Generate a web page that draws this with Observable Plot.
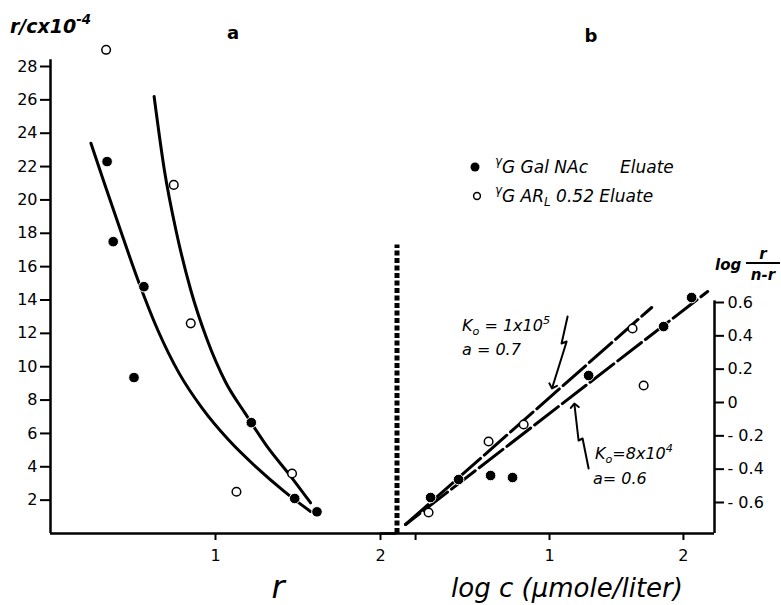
<!DOCTYPE html>
<html><head><meta charset="utf-8">
<script src="https://cdn.jsdelivr.net/npm/d3@7"></script>
<script src="https://cdn.jsdelivr.net/npm/@observablehq/plot@0.6"></script>
<style>
html,body{margin:0;padding:0;background:#fff;}
#wrap{position:relative;width:781px;height:605px;overflow:hidden;background:#fff;}
#wrap svg{position:absolute;left:0;top:0;}
</style></head><body><div id="wrap"></div>
<script>
// ---- Panel a: Scatchard plot (r/c x 10^-4 vs r)
const galR   = [0.343, 0.38, 0.566, 0.506, 1.217, 1.48, 1.615];
const galRC  = [22.3, 17.5, 14.8, 9.35, 6.65, 2.1, 1.3];
const arR    = [0.337, 0.747, 0.85, 1.127, 1.464];
const arRC   = [29.0, 20.9, 12.6, 2.5, 3.6];
const fitGalR  = [0.245, 0.33, 0.42, 0.53, 0.65, 0.78, 0.92, 1.08, 1.25, 1.42, 1.576];
const fitGalRC = [23.4, 20.9, 18.3, 15.2, 12.2, 9.6, 7.5, 5.6, 3.95, 2.5, 1.32];
const fitArR   = [0.628, 0.69, 0.76, 0.85, 0.95, 1.06, 1.18, 1.31, 1.45, 1.576];
const fitArRC  = [26.2, 21.8, 18.2, 14.6, 11.6, 9.1, 7.2, 5.25, 3.5, 1.84];
const yTicksA = [2,4,6,8,10,12,14,16,18,20,22,24,26,28];
const xTicksA = [1,2];

// ---- Panel b: log r/(n-r) vs log c
const galLogC = [0.112, 0.321, 0.56, 0.724, 1.292, 1.852, 2.061];
const galLogR = [-0.57, -0.462, -0.438, -0.45, 0.162, 0.456, 0.63];
const arLogC  = [0.097, 0.545, 0.807, 1.62, 1.703];
const arLogR  = [-0.66, -0.234, -0.132, 0.444, 0.102];
const fitAlogC = [-0.075, 1.763];   // K0 = 1x10^5, a = 0.7
const fitAlogR = [-0.732, 0.57];
const fitBlogC = [-0.075, 2.181];   // K0 = 8x10^4, a = 0.6
const fitBlogR = [-0.732, 0.666];
const yTicksB = [-0.6,-0.4,-0.2,0,0.2,0.4,0.6];
const xTicksB = [0,1,2];
// annotation arrows (zig-zag pointers)
const arrow1C = [1.135, 1.090, 1.128, 1.023];
const arrow1R = [0.516, 0.354, 0.366, 0.096];
const arrow2C = [1.292, 1.247, 1.217, 1.187];
const arrow2R = [-0.396, -0.216, -0.228, -0.018];

const zip = (xs, ys) => xs.map((x, i) => ({x, y: ys[i]}));
const FONT = "DejaVu Sans";
const baseStyle = {background: "transparent", fontFamily: FONT, fontSize: "16px", color: "black", overflow: "visible"};

const wrap = document.getElementById("wrap");

const plotA = Plot.plot({
  width: 781, height: 605,
  marginLeft: 50, marginRight: 384.5, marginTop: 66, marginBottom: 72,
  x: {domain: [0, 2.1]},
  y: {domain: [0, 28]},
  style: baseStyle,
  marks: [
    Plot.axisY({ticks: yTicksA, tickSize: 10, tickPadding: 3, strokeWidth: 2, label: null, tickFormat: d => String(d)}),
    Plot.axisX({ticks: xTicksA, tickSize: 7, tickPadding: 9, strokeWidth: 2, label: null, tickFormat: d => String(d)}),
    Plot.ruleX([0], {y1: 0, y2: 28.4, strokeWidth: 2.5}),
    Plot.ruleY([0], {x1: 0, x2: 2.1, strokeWidth: 2.5}),
    Plot.ruleX([2.1], {y1: 0, y2: 17.3, strokeWidth: 5, strokeDasharray: "5,2.5"}),
    Plot.line(zip(fitGalR, fitGalRC), {x: "x", y: "y", curve: "monotone-x", strokeWidth: 3}),
    Plot.line(zip(fitArR, fitArRC), {x: "x", y: "y", curve: "monotone-x", strokeWidth: 3}),
    Plot.dot(zip(galR, galRC), {x: "x", y: "y", r: 5.3, fill: "black", stroke: "white", strokeWidth: 1}),
    Plot.dot(zip(arR, arRC), {x: "x", y: "y", r: 4.3, fill: "white", stroke: "black", strokeWidth: 1.5})
  ]
});

const plotB = Plot.plot({
  width: 781, height: 605,
  marginLeft: 380, marginRight: 67, marginTop: 302, marginBottom: 72,
  x: {domain: [-0.262, 2.232]},
  y: {domain: [-0.786, 0.6]},
  style: baseStyle,
  marks: [
    Plot.axisY({anchor: "right", ticks: yTicksB, tickSize: 9, tickPadding: 4, strokeWidth: 2, label: null,
      tickFormat: d => d < 0 ? "- " + Math.abs(d) : d === 0 ? "0" : String(d)}),
    Plot.axisX({ticks: xTicksB, tickSize: 7, tickPadding: 9, strokeWidth: 2, label: null,
      tickFormat: d => d === 0 ? "" : String(d)}),
    Plot.ruleX([2.232], {y1: -0.786, y2: 0.61, strokeWidth: 2.5}),
    Plot.ruleY([-0.786], {x1: -0.262, x2: 2.232, strokeWidth: 2.5}),
    Plot.line(zip(fitAlogC, fitAlogR), {x: "x", y: "y", strokeWidth: 3, strokeDasharray: "30,5"}),
    Plot.line(zip(fitBlogC, fitBlogR), {x: "x", y: "y", strokeWidth: 3, strokeDasharray: "30,5", strokeDashoffset: 12}),
    Plot.line(zip(arrow1C, arrow1R), {x: "x", y: "y", strokeWidth: 2, markerEnd: "arrow"}),
    Plot.line(zip(arrow2C, arrow2R), {x: "x", y: "y", strokeWidth: 2, markerEnd: "arrow"}),
    Plot.dot(zip(galLogC, galLogR), {x: "x", y: "y", r: 5.3, fill: "black", stroke: "white", strokeWidth: 1}),
    Plot.dot(zip(arLogC, arLogR), {x: "x", y: "y", r: 4.3, fill: "white", stroke: "black", strokeWidth: 1.5})
  ]
});

wrap.appendChild(plotA);
wrap.appendChild(plotB);

// ---- Text overlay (titles, legend, annotations)
const ov = d3.select(wrap).append("svg").attr("width", 781).attr("height", 605)
  .style("font-family", FONT).style("overflow", "visible");

function addText(x, y, parts, {size = 15, weight = "normal", style = "italic", anchor = "start"} = {}) {
  const t = ov.append("text").attr("x", x).attr("y", y)
    .attr("font-size", size).attr("font-weight", weight).attr("font-style", style)
    .attr("text-anchor", anchor).attr("fill", "black");
  let shift = 0;
  parts.forEach(p => {
    const [s, kind] = Array.isArray(p) ? p : [p, null];
    const target = kind === "sup" ? -0.45 * size : kind === "sub" ? 0.22 * size : 0;
    const ts = t.append("tspan").text(s).attr("dy", target - shift);
    if (kind) ts.attr("font-size", size * 0.7);
    shift = target;
  });
  return t;
}

addText(10, 33, ["r/cx10", ["-4", "sup"]], {size: 19, weight: "bold"});
addText(233, 39, ["a"], {size: 18, weight: "bold", style: "normal", anchor: "middle"});
addText(591, 42, ["b"], {size: 18, weight: "bold", style: "normal", anchor: "middle"});

// legend
ov.append("circle").attr("cx", 475).attr("cy", 167).attr("r", 4.5).attr("fill", "black");
ov.append("circle").attr("cx", 477).attr("cy", 196).attr("r", 3.4).attr("fill", "white").attr("stroke", "black").attr("stroke-width", 1.5);
addText(495, 173, [["γ", "sup"], "G Gal NAc"], {size: 17});
addText(620, 173, ["Eluate"], {size: 17});
addText(495, 202, [["γ", "sup"], "G AR", ["L", "sub"], " 0.52 Eluate"], {size: 17});

// right axis label: log r/(n-r)
addText(715, 270, ["log"], {size: 15, weight: "bold"});
addText(763, 259, ["r"], {size: 15, weight: "bold", anchor: "middle"});
ov.append("line").attr("x1", 746).attr("x2", 780).attr("y1", 263).attr("y2", 263).attr("stroke", "black").attr("stroke-width", 2);
addText(763, 280, ["n-r"], {size: 15, weight: "bold", anchor: "middle"});

// annotations
addText(462, 331, ["K", ["o", "sub"], " = 1x10", ["5", "sup"]], {size: 16});
addText(462, 355, ["a = 0.7"], {size: 16});
addText(595, 459, ["K", ["o", "sub"], "=8x10", ["4", "sup"]], {size: 16});
addText(593, 484, ["a= 0.6"], {size: 16});

// axis titles
addText(278, 598, ["r"], {size: 32, anchor: "middle"});
addText(567, 597, ["log c (μmole/liter)"], {size: 26, anchor: "middle"});
</script></body></html>
